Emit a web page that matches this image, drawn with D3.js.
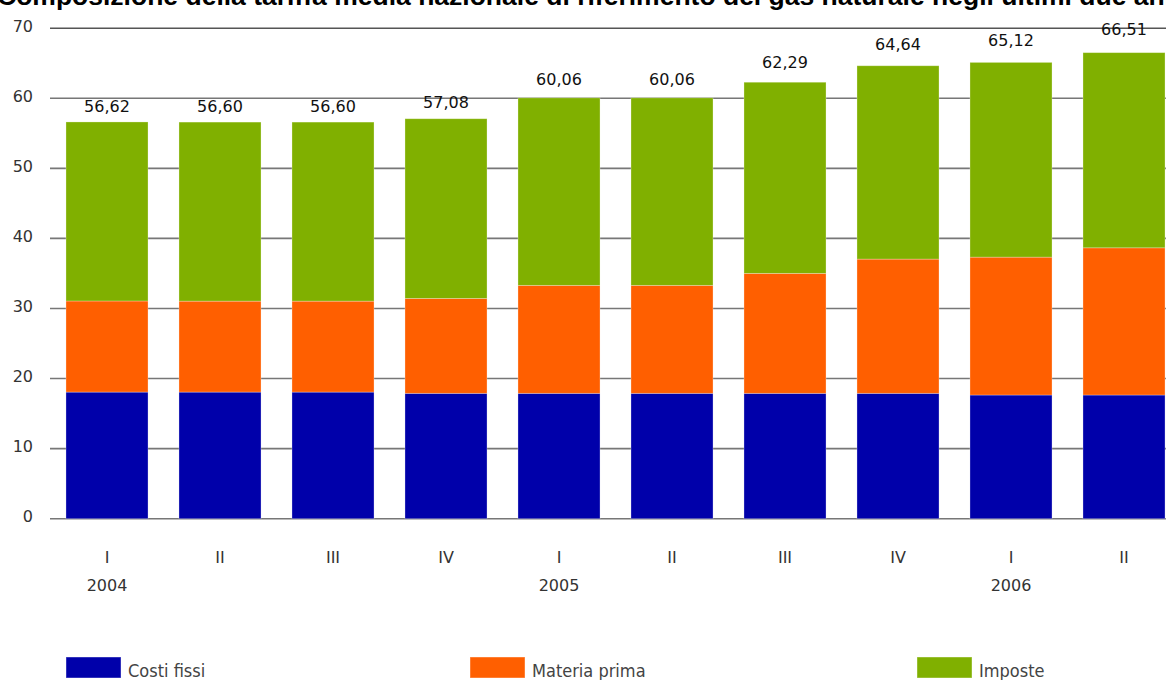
<!DOCTYPE html>
<html>
<head>
<meta charset="utf-8">
<script src="https://cdn.jsdelivr.net/npm/d3@7"></script>
<style>
  html, body { margin: 0; padding: 0; background: #fff; overflow: hidden; }
  svg { display: block; }
</style>
</head>
<body>
<svg id="chart" width="1166" height="680"></svg>
<script>
// Quarterly composition of the national average gas tariff (c€/m³)
const quarters = ["I", "II", "III", "IV", "I", "II", "III", "IV", "I", "II"];
const years = ["2004", "", "", "", "2005", "", "", "", "2006", ""];
const costiFissi   = [18.07, 18.07, 18.07, 17.89, 17.89, 17.89, 17.89, 17.89, 17.65, 17.65];
const materiaPrima = [13.00, 12.98, 12.98, 13.55, 15.41, 15.41, 17.12, 19.16, 19.68, 21.01];
const imposte      = [25.55, 25.55, 25.55, 25.64, 26.76, 26.76, 27.28, 27.59, 27.79, 27.85];
const totals       = [56.62, 56.60, 56.60, 57.08, 60.06, 60.06, 62.29, 64.64, 65.12, 66.51];
const yTicks = [0, 10, 20, 30, 40, 50, 60, 70];
const seriesNames = ["Costi fissi", "Materia prima", "Imposte"];
const seriesColors = ["#0000aa", "#ff5f00", "#80b000"];

const svg = d3.select("#chart");

const x = d3.scaleBand()
  .domain(d3.range(quarters.length))
  .range([50.5, 1180.5])
  .paddingInner(0.274)
  .paddingOuter(0.137);

const y = d3.scaleLinear().domain([0, 70]).range([518.7, 28.2]);

// Title (runs past both edges of the canvas)
svg.append("text")
  .attr("x", -3)
  .attr("y", 5)
  .attr("text-anchor", "start")
  .attr("font-family", "Liberation Sans, Arial, sans-serif")
  .attr("font-weight", "bold")
  .attr("font-size", 26.5)
  .attr("fill", "#000")
  .text("Composizione della tariffa media nazionale di riferimento del gas naturale negli ultimi due anni");

// Horizontal gridlines
svg.append("g")
  .selectAll("line")
  .data(yTicks)
  .join("line")
  .attr("x1", 50)
  .attr("x2", 1166)
  .attr("y1", d => y(d))
  .attr("y2", d => y(d))
  .attr("stroke", d => d === 70 ? "#555" : "#777")
  .attr("stroke-width", 1.6);

// Y tick labels
svg.append("g")
  .selectAll("text")
  .data(yTicks)
  .join("text")
  .attr("x", 33)
  .attr("y", d => y(d) - 2)
  .attr("dy", "0.35em")
  .attr("text-anchor", "end")
  .attr("font-family", "DejaVu Sans, sans-serif")
  .attr("font-size", 16)
  .attr("fill", "#333")
  .text(d => d);

// Stacked bars
const rows = quarters.map((q, i) => ({
  i,
  "Costi fissi": costiFissi[i],
  "Materia prima": materiaPrima[i],
  "Imposte": imposte[i]
}));
const stack = d3.stack().keys(seriesNames)(rows);

svg.append("g")
  .selectAll("g")
  .data(stack)
  .join("g")
  .attr("fill", (d, k) => seriesColors[k])
  .selectAll("rect")
  .data(d => d)
  .join("rect")
  .attr("x", d => x(d.data.i))
  .attr("width", x.bandwidth())
  .attr("y", d => y(d[1]))
  .attr("height", d => y(d[0]) - y(d[1]))
  .attr("stroke", "rgba(255,255,255,0.35)")
  .attr("stroke-width", 0.8);

// Total value labels above the bars
const fmt = d3.formatLocale({ decimal: ",", thousands: ".", grouping: [3], currency: ["", " €"] }).format(".2f");
const minTotal = d3.min(totals);
svg.append("g")
  .selectAll("text")
  .data(totals)
  .join("text")
  .attr("x", (d, i) => x(i) + x.bandwidth() / 2)
  .attr("y", d => y(d) - (10 + (d - minTotal) * 0.75))
  .attr("text-anchor", "middle")
  .attr("font-family", "DejaVu Sans, sans-serif")
  .attr("font-size", 16)
  .attr("fill", "#111")
  .text(d => fmt(d));

// X axis labels: quarter and year
const xl = svg.append("g")
  .attr("font-family", "DejaVu Sans, sans-serif")
  .attr("font-size", 16)
  .attr("fill", "#333")
  .attr("text-anchor", "middle");
xl.selectAll("text.q")
  .data(quarters)
  .join("text")
  .attr("class", "q")
  .attr("x", (d, i) => x(i) + x.bandwidth() / 2)
  .attr("y", 563)
  .text(d => d);
xl.selectAll("text.yr")
  .data(years)
  .join("text")
  .attr("class", "yr")
  .attr("x", (d, i) => x(i) + x.bandwidth() / 2)
  .attr("y", 591)
  .text(d => d);

// Legend
const legendX = [66, 470, 917];
const lg = svg.append("g")
  .selectAll("g")
  .data(seriesNames)
  .join("g")
  .attr("transform", (d, k) => `translate(${legendX[k]},657)`);
lg.append("rect")
  .attr("width", 55)
  .attr("height", 21)
  .attr("fill", (d, k) => seriesColors[k])
  .attr("stroke", "rgba(255,255,255,0.4)");
lg.append("text")
  .attr("x", 62)
  .attr("y", 20)
  .attr("font-family", "DejaVu Sans Condensed, DejaVu Sans, sans-serif")
  .attr("font-stretch", "condensed")
  .attr("font-size", 18)
  .attr("fill", "#444")
  .text(d => d);
</script>
</body>
</html>
